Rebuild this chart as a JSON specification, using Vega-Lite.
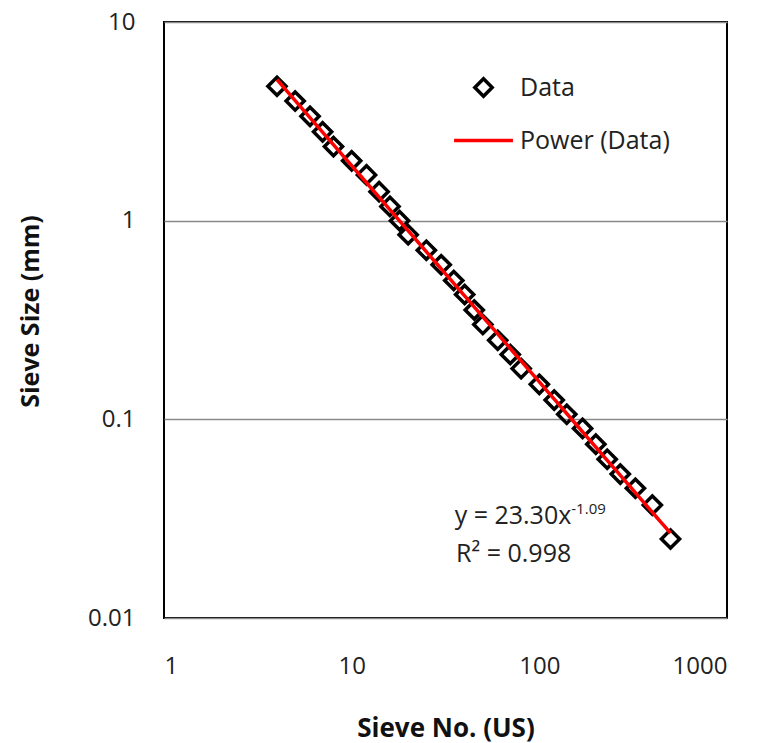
{
  "$schema": "https://vega.github.io/schema/vega-lite/v6.json",
  "width": 563,
  "height": 596,
  "autosize": "none",
  "padding": {"left": 164, "top": 22, "right": 30, "bottom": 125},
  "background": "white",
  "config": {
    "font": "Open Sans",
    "view": {"stroke": "black", "strokeWidth": 2}
  },
  "datasets": {
    "sieve": [
      {"sieve_no": 4, "size_mm": 4.75},
      {"sieve_no": 5, "size_mm": 4.0},
      {"sieve_no": 6, "size_mm": 3.35},
      {"sieve_no": 7, "size_mm": 2.8},
      {"sieve_no": 8, "size_mm": 2.36},
      {"sieve_no": 10, "size_mm": 2.0},
      {"sieve_no": 12, "size_mm": 1.7},
      {"sieve_no": 14, "size_mm": 1.4},
      {"sieve_no": 16, "size_mm": 1.18},
      {"sieve_no": 18, "size_mm": 1.0},
      {"sieve_no": 20, "size_mm": 0.85},
      {"sieve_no": 25, "size_mm": 0.71},
      {"sieve_no": 30, "size_mm": 0.6},
      {"sieve_no": 35, "size_mm": 0.5},
      {"sieve_no": 40, "size_mm": 0.425},
      {"sieve_no": 45, "size_mm": 0.355},
      {"sieve_no": 50, "size_mm": 0.3},
      {"sieve_no": 60, "size_mm": 0.25},
      {"sieve_no": 70, "size_mm": 0.212},
      {"sieve_no": 80, "size_mm": 0.18},
      {"sieve_no": 100, "size_mm": 0.15},
      {"sieve_no": 120, "size_mm": 0.125},
      {"sieve_no": 140, "size_mm": 0.106},
      {"sieve_no": 170, "size_mm": 0.09},
      {"sieve_no": 200, "size_mm": 0.075},
      {"sieve_no": 230, "size_mm": 0.063},
      {"sieve_no": 270, "size_mm": 0.053},
      {"sieve_no": 325, "size_mm": 0.045},
      {"sieve_no": 400, "size_mm": 0.037},
      {"sieve_no": 500, "size_mm": 0.025}
    ]
  },
  "layer": [
    {
      "data": {"name": "sieve"},
      "mark": {"type": "point", "filled": false, "strokeWidth": 3.5, "size": 330, "opacity": 1},
      "encoding": {
        "x": {
          "field": "sieve_no", "type": "quantitative",
          "scale": {"type": "log", "domain": [1, 1000], "nice": false},
          "axis": {
            "title": "Sieve No. (US)", "values": [1, 10, 100, 1000],
            "labelExpr": "datum.value + ''",
            "grid": false, "ticks": false, "tickSize": 0, "domain": false,
            "labelFontSize": 24, "labelColor": "#222", "labelPadding": 36, "labelBaseline": "top",
            "titleFontSize": 26, "titleFontWeight": "bold", "titleColor": "#111",
            "titleY": 110, "titleBaseline": "middle"
          }
        },
        "y": {
          "field": "size_mm", "type": "quantitative",
          "scale": {"type": "log", "domain": [0.01, 10], "nice": false},
          "axis": {
            "title": "Sieve Size (mm)", "values": [0.01, 0.1, 1, 10],
            "labelExpr": "datum.value + ''",
            "grid": true, "gridColor": "#8a8a8a", "gridWidth": 1.5,
            "ticks": false, "tickSize": 0, "domain": false,
            "labelFontSize": 24, "labelColor": "#222", "labelPadding": 29, "labelBaseline": "middle",
            "titleFontSize": 25, "titleFontWeight": "bold", "titleColor": "#111",
            "titleX": -134, "titleY": 289, "titleAngle": -90, "titleBaseline": "middle", "titleAlign": "center"
          }
        },
        "color": {
          "datum": "Data",
          "scale": {"domain": ["Data", "Power (Data)"], "range": ["black", "#ff0000"]},
          "legend": {
            "title": null, "orient": "none", "legendX": 307, "legendY": 53,
            "labelFontSize": 25, "labelColor": "#222", "labelOffset": 24,
            "symbolSize": 300, "symbolStrokeWidth": 3.5, "rowPadding": 24
          }
        },
        "shape": {
          "datum": "Data",
          "scale": {"domain": ["Data", "Power (Data)"], "range": ["diamond", "M-3.4,0H3.4"]},
          "legend": {
            "title": null, "orient": "none", "legendX": 307, "legendY": 53,
            "labelFontSize": 25, "labelColor": "#222", "labelOffset": 24,
            "symbolSize": 300, "symbolStrokeWidth": 3.5, "rowPadding": 24
          }
        }
      }
    },
    {
      "data": {"name": "sieve"},
      "transform": [{"regression": "size_mm", "on": "sieve_no", "method": "pow"}],
      "mark": {"type": "line", "strokeWidth": 3.5},
      "encoding": {
        "x": {"field": "sieve_no", "type": "quantitative"},
        "y": {"field": "size_mm", "type": "quantitative"},
        "color": {"datum": "Power (Data)"}
      }
    },
    {
      "data": {"values": [{"label": "y = 23.30x"}]},
      "mark": {"type": "text", "align": "right", "baseline": "alphabetic", "fontSize": 25, "color": "#222"},
      "encoding": {
        "x": {"datum": 148, "type": "quantitative"},
        "y": {"datum": 0.0297, "type": "quantitative"},
        "text": {"field": "label"}
      }
    },
    {
      "data": {"values": [{"label": "-1.09"}]},
      "mark": {"type": "text", "align": "left", "baseline": "alphabetic", "fontSize": 15, "color": "#222"},
      "encoding": {
        "x": {"datum": 148, "type": "quantitative"},
        "y": {"datum": 0.0335, "type": "quantitative"},
        "text": {"field": "label"}
      }
    },
    {
      "data": {"values": [{"label": "R² = 0.998"}]},
      "mark": {"type": "text", "align": "center", "baseline": "alphabetic", "fontSize": 25, "color": "#222"},
      "encoding": {
        "x": {"datum": 73, "type": "quantitative"},
        "y": {"datum": 0.0191, "type": "quantitative"},
        "text": {"field": "label"}
      }
    }
  ]
}
